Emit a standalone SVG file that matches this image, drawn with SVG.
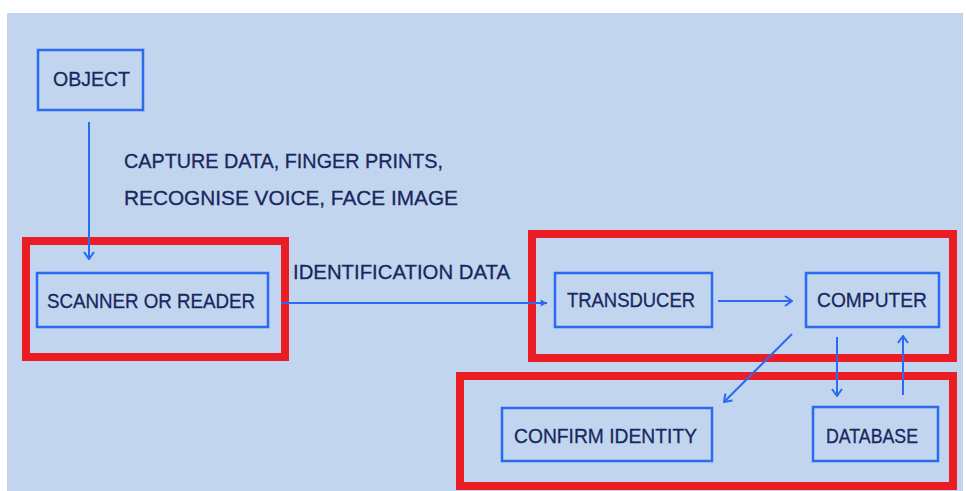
<svg xmlns="http://www.w3.org/2000/svg" width="966" height="491" viewBox="0 0 966 491">
<defs>
<style>
.node{fill:none;stroke:#2b6af2;stroke-width:2.5}
.grp{fill:none;stroke:#ea1c24;stroke-width:8}
.t{font-family:"Liberation Sans",Arial,sans-serif;font-size:21px;fill:#1a2660;stroke:#1a2660;stroke-width:0.3}
.c{fill:none;stroke:#2b6af2;stroke-width:2}
</style>
<marker id="chev" viewBox="0 0 12 12" refX="11" refY="6" markerWidth="12" markerHeight="12" markerUnits="userSpaceOnUse" orient="auto">
<polyline points="4,1 11,6 4,11" fill="none" stroke="#2b6af2" stroke-width="2"/>
</marker>
<marker id="tri" viewBox="0 0 10 10" refX="9" refY="5" markerWidth="9" markerHeight="9" markerUnits="userSpaceOnUse" orient="auto">
<path d="M2,1 L9,5 L2,9 Z" fill="#2b6af2"/>
</marker>
</defs>
<rect x="0" y="0" width="966" height="491" fill="#ffffff"/>
<rect x="7" y="13" width="956" height="478" fill="#c1d6ee"/>
<g id="groups">
<rect class="grp" x="26" y="241" width="259" height="116"/>
<rect class="grp" x="532" y="234" width="421" height="124"/>
<rect class="grp" x="460" y="376" width="493" height="110"/>
</g>
<g id="connectors">
<line class="c" x1="89" y1="122" x2="89" y2="259" marker-end="url(#chev)"/>
<line class="c" x1="281" y1="303" x2="547" y2="303" marker-end="url(#tri)"/>
<line class="c" x1="718" y1="301" x2="792" y2="301" marker-end="url(#chev)"/>
<line class="c" x1="792" y1="334" x2="724" y2="402" marker-end="url(#chev)"/>
<line class="c" x1="837" y1="337" x2="837" y2="396" marker-end="url(#chev)"/>
<line class="c" x1="903" y1="395" x2="903" y2="336" marker-end="url(#chev)"/>
<text class="t" x="124" y="168" textLength="319" lengthAdjust="spacingAndGlyphs">CAPTURE DATA, FINGER PRINTS,</text>
<text class="t" x="124" y="205" textLength="334" lengthAdjust="spacingAndGlyphs">RECOGNISE VOICE, FACE IMAGE</text>
<text class="t" x="293" y="279" textLength="217" lengthAdjust="spacingAndGlyphs">IDENTIFICATION DATA</text>
</g>
<g id="object">
<rect class="node" x="38" y="50" width="105" height="60"/>
<text class="t" x="53" y="86" textLength="77" lengthAdjust="spacingAndGlyphs">OBJECT</text>
</g>
<g id="scanner">
<rect class="node" x="37" y="273" width="231" height="54"/>
<text class="t" x="47" y="308" textLength="208" lengthAdjust="spacingAndGlyphs">SCANNER OR READER</text>
</g>
<g id="transducer">
<rect class="node" x="555" y="273" width="157" height="54"/>
<text class="t" x="567" y="307" textLength="128" lengthAdjust="spacingAndGlyphs">TRANSDUCER</text>
</g>
<g id="computer">
<rect class="node" x="806" y="273" width="133" height="54"/>
<text class="t" x="817" y="307" textLength="110" lengthAdjust="spacingAndGlyphs">COMPUTER</text>
</g>
<g id="confirm">
<rect class="node" x="502" y="408" width="210" height="53"/>
<text class="t" x="514" y="443" textLength="183" lengthAdjust="spacingAndGlyphs">CONFIRM IDENTITY</text>
</g>
<g id="database">
<rect class="node" x="813" y="407" width="125" height="54"/>
<text class="t" x="826" y="443" textLength="92" lengthAdjust="spacingAndGlyphs">DATABASE</text>
</g>
</svg>
